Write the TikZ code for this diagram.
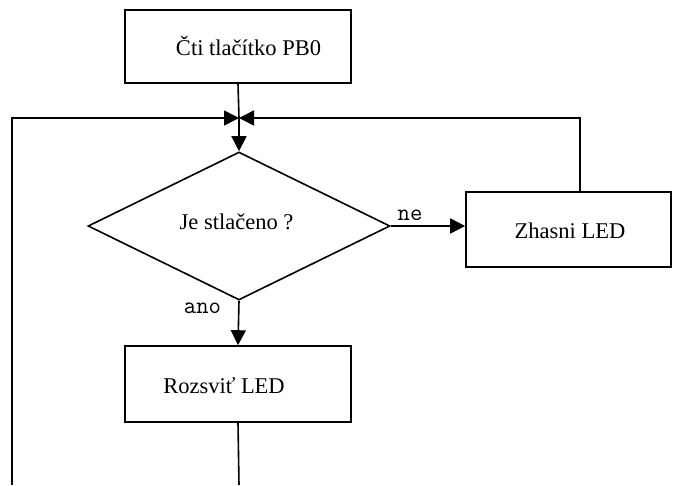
\documentclass[tikz,border=0pt]{standalone}
\usepackage{fontspec}
\setmainfont{Liberation Serif}
\usetikzlibrary{shapes.geometric,arrows.meta}
\tikzset{
  box/.style={draw, line width=1.6pt, inner sep=0pt},
  decision/.style={draw, diamond, line width=1.6pt, inner sep=0pt, minimum width=302pt, minimum height=148pt},
  txt/.style={inner sep=0pt, font=\fontsize{22.5}{26}\selectfont},
  lbl/.style={inner sep=0pt, font=\ttfamily\fontsize{24}{26}\selectfont},
  flow/.style={line width=1.6pt},
  arr/.style={flow, -{Triangle[length=15pt,width=15pt]}}
}

\begin{document}
\begin{tikzpicture}[x=1pt,y=-1pt]
  \useasboundingbox (0,0) rectangle (683,485);
  % boxes
  \node (read) [box, minimum width=226pt, minimum height=73pt] at (238,46.5) {};
  \node (dec) [decision] at (239,226) {};
  \node (off) [box, minimum width=205pt, minimum height=75pt] at (568.5,229.5) {};
  \node (on) [box, minimum width=226pt, minimum height=76pt] at (238,384) {};
  % texts
  \node (readtxt) [txt, anchor=base] at (248.5,55) {Čti tlačítko PB0};
  \node (dectxt) [txt, anchor=base] at (236.5,229) {Je stlačeno ?};
  \node (offtxt) [txt, anchor=base] at (570,238) {Zhasni LED};
  \node (ontxt) [txt, anchor=base] at (224,393) {Rozsviť LED};
  % loop points
  \coordinate (jn) at (239,118);
  \coordinate (tl) at (12,118);
  \coordinate (bl) at (12,485);
  \coordinate (tr) at (580,118);
  \coordinate (bm) at (239,485);
  % connectors
  \draw[flow] (read.south) -- (jn);
  \draw[arr] (jn) -- (dec.north);
  \draw[arr] (bl) -- (tl) -- (jn);
  \draw[arr] (off.north -| tr) -- (tr) -- (jn);
  \draw[arr] (dec.east) -- (dec.east -| off.west);
  \draw[arr] (dec.south) -- (on.north);
  \draw[flow] (on.south) -- (bm);
  % labels
  \node (ne) [lbl, anchor=base] at (410,220) {ne};
  \node (ano) [lbl, anchor=base] at (202.5,313) {ano};
\end{tikzpicture}
\end{document}
